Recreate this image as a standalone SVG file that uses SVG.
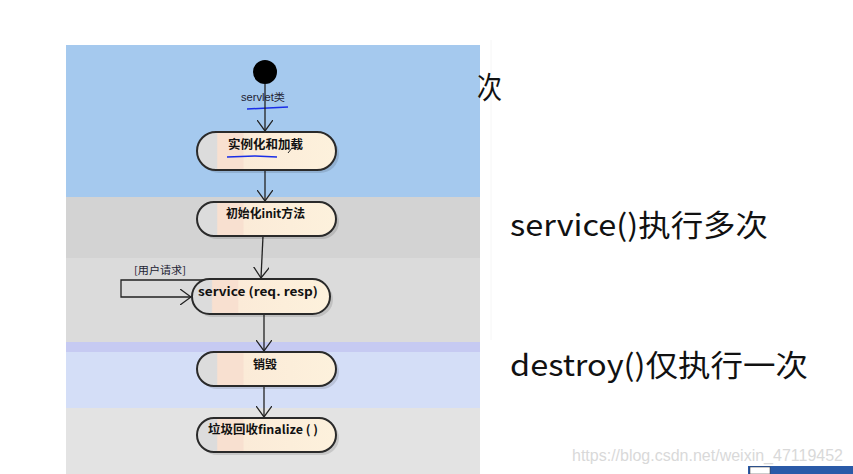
<svg xmlns="http://www.w3.org/2000/svg" width="853" height="474" viewBox="0 0 853 474">
<style>
.node{fill:url(#ng);stroke:#2a2a2a;stroke-width:2}
.shadow{fill:#000;opacity:0.12}
.lbl{font-family:"Noto Sans CJK SC","Liberation Sans",sans-serif;font-size:12px;font-weight:bold;fill:#111}
.big{font-family:"Noto Sans CJK SC","Open Sans",sans-serif;font-size:30px;fill:#111}
.conn{stroke:#222;stroke-width:1.3;fill:none}
</style>
<defs>
<linearGradient id="ng" x1="0" y1="0" x2="1" y2="0">
<stop offset="0" stop-color="#dcdcdc"/>
<stop offset="0.14" stop-color="#dcdcdc"/>
<stop offset="0.15" stop-color="#f8e0d0"/>
<stop offset="0.33" stop-color="#f8e0d0"/>
<stop offset="0.34" stop-color="#fbebd8"/>
<stop offset="1" stop-color="#fdf1dc"/>
</linearGradient>
<marker id="ar" viewBox="0 0 12 16" refX="11" refY="8" markerWidth="12" markerHeight="16" markerUnits="userSpaceOnUse" orient="auto">
<path d="M0,0 L11,8 L0,16" fill="none" stroke="#222" stroke-width="1.3"/>
</marker>
</defs>
<rect width="853" height="474" fill="#ffffff"/>
<g id="panel">
<rect x="66" y="45" width="414" height="152" fill="#a5c9ee"/>
<rect x="66" y="197" width="414" height="61" fill="#d3d3d3"/>
<rect x="66" y="258" width="414" height="84" fill="#dbdbdb"/>
<rect x="66" y="342" width="414" height="10" fill="#c6caf2"/>
<rect x="66" y="352" width="414" height="56" fill="#d4def7"/>
<rect x="66" y="408" width="414" height="66" fill="#e3e3e3"/>
<line x1="491" y1="40" x2="491" y2="340" stroke="#f6f6f6" stroke-width="1"/>
</g>
<g id="start">
<circle cx="265" cy="72" r="12" fill="#000"/>
<text x="263" y="101" text-anchor="middle" font-family="Liberation Sans,Noto Sans CJK SC,sans-serif" font-size="10" fill="#223" textLength="44" lengthAdjust="spacingAndGlyphs">servlet类</text>
<path d="M247,109 L268,108 L288,107" stroke="#1a2ee8" stroke-width="1.5" fill="none"/>
</g>
<g id="connectors">
<line class="conn" x1="265" y1="84" x2="265" y2="131" marker-end="url(#ar)"/>
<line class="conn" x1="265" y1="170" x2="265" y2="201" marker-end="url(#ar)"/>
<line class="conn" x1="263" y1="236" x2="261" y2="278" marker-end="url(#ar)"/>
<path class="conn" d="M205,280 L121,280 L121,297 L191,297" marker-end="url(#ar)"/>
<text x="134" y="274" font-family="Noto Sans CJK SC,sans-serif" font-size="10" fill="#223" textLength="52" lengthAdjust="spacingAndGlyphs">[用户请求]</text>
<line class="conn" x1="264" y1="314" x2="264" y2="351" marker-end="url(#ar)"/>
<line class="conn" x1="264" y1="387" x2="264" y2="417" marker-end="url(#ar)"/>
</g>
<g id="n1">
<rect class="shadow" x="200" y="135" width="139" height="38" rx="19"/>
<rect class="node" x="197" y="132" width="139" height="38" rx="19"/>
<text class="lbl" x="228" y="149" textLength="75" lengthAdjust="spacingAndGlyphs">实例化和加载</text>
<path d="M227,157 L255,156 L277,157" stroke="#1a2ee8" stroke-width="1.5" fill="none"/>
<path d="M288,153 L292,148" stroke="#222" stroke-width="1" fill="none"/>
</g>
<g id="n2">
<rect class="shadow" x="200" y="205" width="139" height="34" rx="17"/>
<rect class="node" x="197" y="202" width="139" height="34" rx="17"/>
<text class="lbl" x="226" y="218" textLength="79" lengthAdjust="spacingAndGlyphs">初始化init方法</text>
</g>
<g id="n3">
<rect class="shadow" x="195" y="282" width="138" height="35" rx="17.5"/>
<rect class="node" x="192" y="279" width="138" height="35" rx="17.5"/>
<text class="lbl" x="198" y="296" textLength="120" lengthAdjust="spacingAndGlyphs">service (req. resp)</text>
</g>
<g id="n4">
<rect class="shadow" x="200" y="355" width="139" height="34" rx="17"/>
<rect class="node" x="197" y="352" width="139" height="34" rx="17"/>
<text class="lbl" x="253" y="369" textLength="24" lengthAdjust="spacingAndGlyphs">销毁</text>
</g>
<g id="n5">
<rect class="shadow" x="200" y="421" width="139" height="34" rx="17"/>
<rect class="node" x="197" y="418" width="139" height="34" rx="17"/>
<text class="lbl" x="208" y="434" textLength="110" lengthAdjust="spacingAndGlyphs">垃圾回收finalize ( )</text>
</g>
<g id="notes">
<text class="big" x="477" y="98" textLength="25" lengthAdjust="spacingAndGlyphs">次</text>
<text class="big" x="510" y="236" textLength="258" lengthAdjust="spacingAndGlyphs">service()执行多次</text>
<text class="big" x="510" y="376" textLength="298" lengthAdjust="spacingAndGlyphs">destroy()仅执行一次</text>
<text x="572" y="461" font-family="Liberation Sans,sans-serif" font-size="16" fill="#d9d9d9" textLength="271" lengthAdjust="spacingAndGlyphs">https://blog.csdn.net/weixin_47119452</text>
<rect x="748" y="466" width="105" height="8" fill="#2a5aa8"/>
<rect x="750" y="467" width="20" height="7" fill="#ffffff" stroke="#333" stroke-width="0.5"/>
</g>
</svg>
